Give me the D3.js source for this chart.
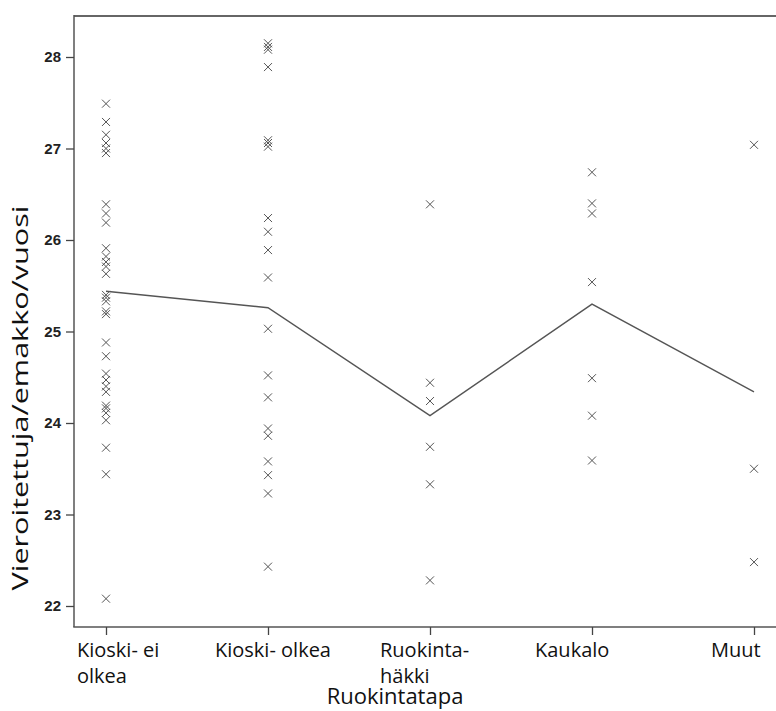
<!DOCTYPE html>
<html>
<head>
<meta charset="utf-8">
<script src="https://cdn.jsdelivr.net/npm/d3@7"></script>
<style>
  html, body { margin: 0; padding: 0; background: #fff; }
  svg { display: block; }
</style>
</head>
<body>
<svg id="chart" width="776" height="711"></svg>
<script>
// ---- data ----
const categories = ["Kioski- ei\nolkea", "Kioski- olkea", "Ruokinta-\nhäkki", "Kaukalo", "Muut"];
const kioskiEiOlkea = [27.49, 27.29, 27.15, 27.06, 27.0, 26.95, 26.39, 26.29, 26.19, 25.91, 25.82, 25.76, 25.71, 25.63,
  25.40, 25.37, 25.33, 25.22, 25.19, 24.88, 24.73, 24.54, 24.47, 24.40, 24.34, 24.19, 24.16, 24.11, 24.03, 23.73, 23.44, 22.08];
const kioskiOlkea = [28.15, 28.11, 28.08, 27.89, 27.09, 27.06, 27.02, 26.24, 26.09, 25.89, 25.59, 25.03, 24.52, 24.28,
  23.94, 23.86, 23.58, 23.43, 23.23, 22.43];
const ruokintahakki = [26.39, 24.44, 24.24, 23.74, 23.33, 22.28];
const kaukalo = [26.74, 26.40, 26.29, 25.54, 24.49, 24.08, 23.59];
const muut = [27.04, 23.50, 22.48];
const seriesValues = [kioskiEiOlkea, kioskiOlkea, ruokintahakki, kaukalo, muut];
const means = [25.44, 25.26, 24.08, 25.30, 24.34];
const yTicks = [22, 23, 24, 25, 26, 27, 28];
const xTitle = "Ruokintatapa";
const yTitle = "Vieroitettuja/emakko/vuosi";

// ---- layout ----
const plotL = 74, plotT = 16, plotB = 627, plotR = 776;
const labelX = [77, 215, 380, 535, 711];

const svg = d3.select("#chart");

const x = d3.scalePoint().domain(categories).range([106, 754]);
const y = d3.scaleLinear().domain([22 - 21 / 91.5, 28 + 41 / 91.5]).range([plotB, plotT]);

const ink = "#555";
const labelFont = "'Open Sans', 'Noto Sans', sans-serif";

// frame
svg.append("line").attr("x1", plotL).attr("x2", plotR).attr("y1", plotT).attr("y2", plotT)
  .attr("stroke", "#666").attr("stroke-width", 2);
svg.append("line").attr("x1", plotL).attr("x2", plotL).attr("y1", plotT - 1).attr("y2", plotB)
  .attr("stroke", "#555").attr("stroke-width", 1.5);
svg.append("line").attr("x1", plotL - 0.75).attr("x2", plotR).attr("y1", plotB).attr("y2", plotB)
  .attr("stroke", "#555").attr("stroke-width", 1.5);

// y axis
const yAxis = svg.append("g").attr("transform", `translate(${plotL},0)`)
  .call(d3.axisLeft(y).tickValues(yTicks).tickSize(8).tickPadding(5).tickFormat(d3.format("d")));
yAxis.select(".domain").remove();
yAxis.selectAll(".tick line").attr("stroke", "#444").attr("stroke-width", 1.3);
yAxis.selectAll(".tick text").attr("fill", "#222").style("font-family", "'Liberation Sans', Arial, sans-serif")
  .style("font-size", "15px").style("font-weight", "bold");

// x axis
const xAxis = svg.append("g").attr("transform", `translate(0,${plotB})`)
  .call(d3.axisBottom(x).tickSize(8).tickFormat(""));
xAxis.select(".domain").remove();
xAxis.selectAll(".tick line").attr("stroke", "#444").attr("stroke-width", 1.3);

// x labels
categories.forEach((c, i) => {
  const t = svg.append("text")
    .attr("x", labelX[i]).attr("y", 657)
    .attr("fill", "#111")
    .style("font-family", labelFont)
    .style("font-size", "20px");
  c.split("\n").forEach((line, j) => {
    t.append("tspan").attr("x", labelX[i]).attr("dy", j === 0 ? 0 : 26).text(line);
  });
});

// axis titles
svg.append("text").attr("x", 395).attr("y", 704).attr("text-anchor", "middle")
  .attr("fill", "#111").style("font-family", labelFont)
  .style("font-size", "22px").text(xTitle);
svg.append("text").attr("transform", "translate(28,398) rotate(-90)").attr("text-anchor", "middle")
  .attr("fill", "#111").style("font-family", labelFont)
  .style("font-size", "22px")
  .attr("textLength", 385).attr("lengthAdjust", "spacingAndGlyphs")
  .text(yTitle);

// mean line
svg.append("path")
  .datum(means.map((m, i) => [categories[i], m]))
  .attr("fill", "none").attr("stroke", ink).attr("stroke-width", 1.4)
  .attr("d", d3.line().x(d => x(d[0])).y(d => y(d[1])));

// points (x markers)
const pts = [];
seriesValues.forEach((vals, i) => vals.forEach(v => pts.push([categories[i], v])));
const s = 4;
svg.append("g").selectAll("path").data(pts).join("path")
  .attr("transform", d => `translate(${x(d[0])},${y(d[1])})`)
  .attr("d", `M${-s},${-s}L${s},${s}M${-s},${s}L${s},${-s}`)
  .attr("stroke", ink).attr("stroke-width", 1).attr("fill", "none");
</script>
</body>
</html>
